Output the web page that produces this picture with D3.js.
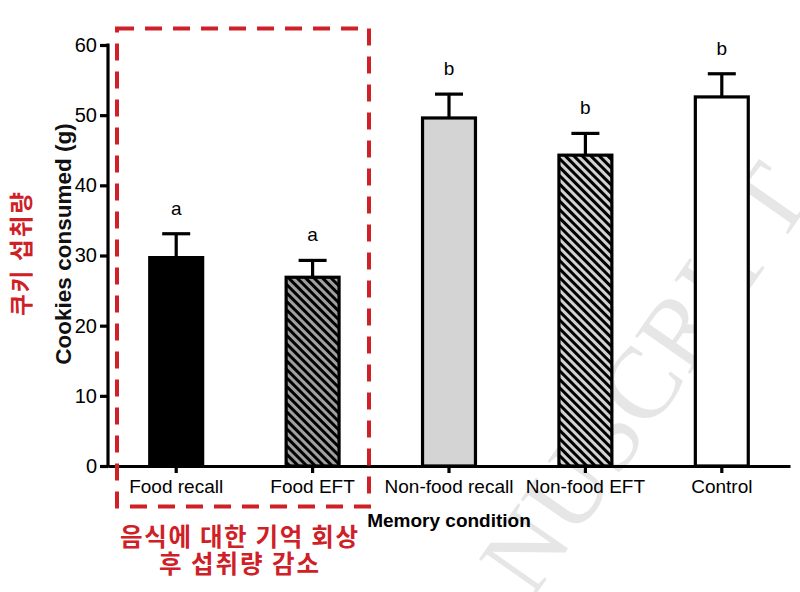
<!DOCTYPE html>
<html><head><meta charset="utf-8">
<script src="https://cdn.jsdelivr.net/npm/d3@7"></script>
<style>
html,body{margin:0;padding:0;background:#fff;}
svg{display:block;}
</style></head>
<body>
<svg id="chart" width="800" height="592"></svg>
<script>
// ---- data ----
const categories = ["Food recall", "Food EFT", "Non-food recall", "Non-food EFT", "Control"];
const means = [29.7, 26.9, 49.6, 44.3, 52.6];
const sems = [3.4, 2.4, 3.4, 3.1, 3.3];
const letters = ["a", "a", "b", "b", "b"];
const yTicks = [0, 10, 20, 30, 40, 50, 60];
const yTitle = "Cookies consumed  (g)";
const xTitle = "Memory condition";
const noteVertical = "쿠키 섭취량";
const noteLines = ["음식에 대한 기억 회상", "후 섭취량 감소"];
const watermark = "NUSCRIPT";

// ---- styles ----
const fills = ["#000000", "url(#hatchDark)", "#d4d4d4", "url(#hatchLight)", "#ffffff"];
const RED = "#cf2027";
const FONT = "'Liberation Sans', Arial, sans-serif";
const KFONT = "'Noto Sans CJK KR', sans-serif";

const svg = d3.select("#chart");
const defs = svg.append("defs");
function hatch(id, bg) {
  const p = defs.append("pattern").attr("id", id).attr("patternUnits", "userSpaceOnUse")
    .attr("width", 6).attr("height", 6).attr("patternTransform", "rotate(-45)");
  p.append("rect").attr("width", 6).attr("height", 6).attr("fill", bg);
  p.append("rect").attr("x", 0).attr("width", 3).attr("height", 6).attr("fill", "#000");
}
hatch("hatchDark", "#a0a0a0");
hatch("hatchLight", "#d2d2d2");

const x = d3.scaleBand().domain(categories).range([108, 790]).paddingInner(0.59).paddingOuter(0.295);
const y = d3.scaleLinear().domain([0, 60]).range([466, 45]);

// watermark (behind)
svg.append("text").text(watermark)
  .attr("transform", "translate(532,600) rotate(-55)")
  .attr("font-family", "'Liberation Serif', 'DejaVu Serif', serif")
  .attr("font-size", 102).attr("fill", "#e6e6e6");

// bars
svg.append("g").selectAll("rect").data(categories).join("rect")
  .attr("x", d => x(d) + 1.5)
  .attr("y", (d, i) => y(means[i]))
  .attr("width", x.bandwidth() - 3)
  .attr("height", (d, i) => y(0) - y(means[i]))
  .attr("fill", (d, i) => fills[i])
  .attr("stroke", "#000").attr("stroke-width", 3.2);

// error bars
const eg = svg.append("g").attr("stroke", "#000").attr("stroke-width", 3.2);
categories.forEach((c, i) => {
  const cx = x(c) + x.bandwidth() / 2;
  eg.append("line").attr("x1", cx).attr("x2", cx).attr("y1", y(means[i])).attr("y2", y(means[i] + sems[i]));
  eg.append("line").attr("x1", cx - 14).attr("x2", cx + 14).attr("y1", y(means[i] + sems[i])).attr("y2", y(means[i] + sems[i]));
});

// significance letters
svg.append("g").selectAll("text").data(categories).join("text")
  .attr("x", d => x(d) + x.bandwidth() / 2)
  .attr("y", (d, i) => y(means[i] + sems[i]) - 19)
  .attr("text-anchor", "middle")
  .attr("font-family", FONT).attr("font-size", 19).attr("fill", "#000")
  .text((d, i) => letters[i]);

// axes
const yAxis = svg.append("g").attr("transform", "translate(108,0)")
  .call(d3.axisLeft(y).tickValues(yTicks).tickSize(8).tickSizeOuter(0).tickPadding(3));
const xAxis = svg.append("g").attr("transform", "translate(0,466)")
  .call(d3.axisBottom(x).tickSize(7).tickSizeOuter(0).tickPadding(7));
[yAxis, xAxis].forEach(a => {
  a.selectAll("path.domain").attr("stroke", "#000").attr("stroke-width", 3.2);
  a.selectAll(".tick line").attr("stroke", "#000").attr("stroke-width", 3.2);
  a.selectAll(".tick text").attr("fill", "#000").attr("font-family", FONT);
});
yAxis.selectAll(".tick text").attr("font-size", 20);
xAxis.selectAll(".tick text").attr("font-size", 19);
yAxis.select("path.domain").attr("d", "M0,43.5V467.6");

// axis titles
svg.append("text").text(yTitle)
  .attr("transform", "translate(71,244) rotate(-90)")
  .attr("text-anchor", "middle").attr("font-family", FONT)
  .attr("font-size", 22.5).attr("font-weight", "bold").attr("fill", "#111");
svg.append("text").text(xTitle)
  .attr("x", 449).attr("y", 527).attr("text-anchor", "middle")
  .attr("font-family", FONT).attr("font-size", 19).attr("font-weight", "bold").attr("fill", "#000");

// red annotation box
svg.append("rect").attr("x", 117).attr("y", 28.5).attr("width", 252).attr("height", 478)
  .attr("fill", "none").attr("stroke", RED).attr("stroke-width", 4).attr("stroke-dasharray", "17 11");

// red notes
svg.append("text").text(noteVertical)
  .attr("transform", "translate(20,254) rotate(-90)")
  .attr("text-anchor", "middle").attr("dominant-baseline", "central")
  .attr("font-family", KFONT).attr("font-weight", "bold").attr("font-size", 23.5)
  .attr("textLength", 124).attr("lengthAdjust", "spacing").attr("fill", RED);
const noteW = [238, 160];
noteLines.forEach((t, i) => {
  svg.append("text").text(t)
    .attr("x", 239).attr("y", 535 + i * 27)
    .attr("text-anchor", "middle").attr("dominant-baseline", "central")
    .attr("font-family", KFONT).attr("font-weight", "bold").attr("font-size", 24.5)
    .attr("textLength", noteW[i]).attr("lengthAdjust", "spacing").attr("fill", RED);
});
</script>
</body></html>
